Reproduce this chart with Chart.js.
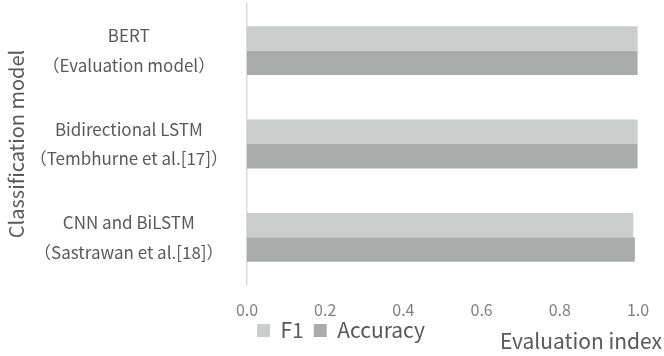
<!DOCTYPE html>
<html>
<head>
<meta charset="utf-8">
<script src="https://cdn.jsdelivr.net/npm/chart.js@4/dist/chart.umd.min.js"></script>
<style>
  html, body { margin: 0; padding: 0; background: #ffffff; }
  #wrap { width: 664px; height: 356px; position: relative; }
</style>
</head>
<body>
<div id="wrap"><canvas id="c" width="664" height="356"></canvas></div>
<script>
// Classification models compared (two-line category labels)
const models = [
  ['BERT', '（Evaluation model）'],
  ['Bidirectional LSTM', '（Tembhurne et al.[17]）'],
  ['CNN and BiLSTM', '（Sastrawan et al.[18]）']
];
const seriesNames = ['F1', 'Accuracy'];
const f1Scores = [0.999, 0.999, 0.988];
const accuracyScores = [0.999, 0.999, 0.992];
const xTickStep = 0.2;

const FONT = '"Noto Sans CJK JP", "Noto Sans", sans-serif';
const TEXT = '#595959';

// The legend shares its row with the x-axis title: lift it a few pixels
// after layout so both sit side by side under the tick labels.
const legendLift = {
  id: 'legendLift',
  afterLayout(chart) {
    const lg = chart.legend;
    if (!lg) return;
    const dy = -8;
    lg.top += dy;
    lg.bottom += dy;
  }
};

new Chart(document.getElementById('c'), {
  type: 'bar',
  data: {
    labels: models,
    datasets: [
      { label: seriesNames[0], data: f1Scores, backgroundColor: '#cbcdcc', borderWidth: 0 },
      { label: seriesNames[1], data: accuracyScores, backgroundColor: '#aaacab', borderWidth: 0 }
    ]
  },
  plugins: [legendLift],
  options: {
    indexAxis: 'y',
    responsive: false,
    animation: false,
    devicePixelRatio: 1,
    layout: { padding: { top: 4, right: 2, bottom: 0, left: 0 } },
    datasets: { bar: { categoryPercentage: 0.524, barPercentage: 1.0 } },
    scales: {
      x: {
        min: 0,
        max: 1,
        afterFit: (s) => { s.height = 34; s.paddingRight = 26; },
        grid: { display: false, drawTicks: false },
        border: { display: false },
        ticks: {
          stepSize: xTickStep,
          padding: 16,
          color: '#7f7f7f',
          font: { family: FONT, size: 16 },
          callback: (v) => Number(v).toFixed(1)
        }
      },
      y: {
        afterFit: (s) => { s.width = 247; s.paddingTop = 0; s.paddingBottom = 0; },
        grid: { display: false, drawTicks: false },
        border: { display: true, color: '#d9d9d9', width: 1.5 },
        ticks: {
          padding: 19,
          crossAlign: 'center',
          color: TEXT,
          font: { family: FONT, size: 17, lineHeight: 1.75 }
        },
        title: {
          display: true,
          text: 'Classification model',
          color: TEXT,
          font: { family: FONT, size: 20, lineHeight: 1.2 },
          padding: { top: 4, bottom: 0 }
        }
      }
    },
    plugins: {
      tooltip: { enabled: false },
      legend: {
        position: 'bottom',
        align: 'start',
        fullSize: false,
        maxHeight: 34,
        labels: {
          color: TEXT,
          font: { family: FONT, size: 21 },
          boxWidth: 13,
          boxHeight: 13,
          padding: 10
        }
      },
      title: {
        display: true,
        text: 'Evaluation index',
        position: 'bottom',
        align: 'end',
        color: TEXT,
        font: { family: FONT, size: 21, lineHeight: 1.2, weight: 'normal' },
        padding: { top: -23.6, bottom: 2.4 }
      }
    }
  }
});
</script>
</body>
</html>
